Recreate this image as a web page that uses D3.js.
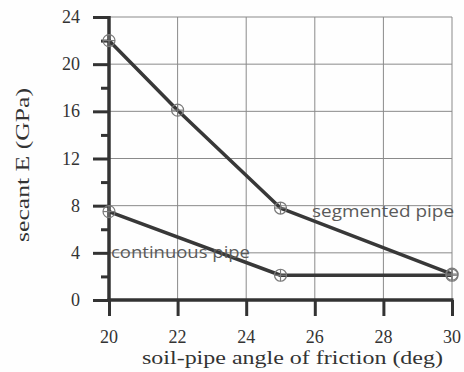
<!DOCTYPE html>
<html><head><meta charset="utf-8">
<script src="https://cdn.jsdelivr.net/npm/d3@7"></script>
<style>body{margin:0;background:#fff}
.serif{font-family:"Liberation Serif","DejaVu Serif",serif}
.sans{font-family:"Open Sans","DejaVu Sans",sans-serif}</style>
</head><body>
<script>
const xTicks = [20, 22, 24, 26, 28, 30];
const yTicks = [0, 4, 8, 12, 16, 20, 24];
const yMinor = [2, 6, 10, 14, 18, 22];
const segX = [20, 22, 25, 30];
const segY = [22, 16.1, 7.8, 2.2];
const conX = [20, 25, 30];
const conY = [7.5, 2.1, 2.1];
const seriesLabels = ["segmented pipe", "continuous pipe"];
const xTitle = "soil-pipe angle of friction (deg)";
const yTitle = "secant E (GPa)";

const W = 464, H = 372;
const m = {l: 109, r: 452, t: 17, b: 300};
const svg = d3.select("body").append("svg").attr("width", W).attr("height", H);
svg.append("rect").attr("width", W).attr("height", H).attr("fill", "#fefefe");
const x = d3.scaleLinear().domain([20, 30]).range([m.l, m.r]);
const y = d3.scaleLinear().domain([0, 24]).range([m.b, m.t]);

// grid
const g = svg.append("g").attr("stroke", "#8a8a8a").attr("stroke-width", 1);
g.selectAll(".vx").data(xTicks.slice(1)).join("line")
  .attr("x1", d => x(d)).attr("x2", d => x(d)).attr("y1", m.t).attr("y2", m.b);
g.selectAll(".hy").data(yTicks.slice(1)).join("line")
  .attr("x1", m.l).attr("x2", m.r).attr("y1", d => y(d)).attr("y2", d => y(d));

// axes (ticks only; labels drawn separately)
const yAxis = svg.append("g").attr("transform", `translate(${m.l},0)`)
  .call(d3.axisLeft(y).tickValues(yTicks).tickSize(16).tickFormat(""));
const yAxisMinor = svg.append("g").attr("transform", `translate(${m.l},0)`)
  .call(d3.axisLeft(y).tickValues(yMinor).tickSize(8).tickFormat(""));
const xAxis = svg.append("g").attr("transform", `translate(0,${m.b})`)
  .call(d3.axisBottom(x).tickValues(xTicks).tickSize(16).tickFormat(""));
[yAxis, yAxisMinor, xAxis].forEach(a => {
  a.select(".domain").remove();
  a.selectAll(".tick line").attr("stroke", "#333").attr("stroke-width", 3);
});
svg.append("line").attr("x1", m.l).attr("x2", m.l).attr("y1", m.t - 1).attr("y2", m.b + 1.5)
  .attr("stroke", "#333").attr("stroke-width", 3.5);
svg.append("line").attr("x1", m.l - 1.5).attr("x2", m.r + 1.5).attr("y1", m.b).attr("y2", m.b)
  .attr("stroke", "#333").attr("stroke-width", 3.5);

// tick labels
svg.append("g").selectAll("text").data(yTicks).join("text")
  .attr("class", "serif").style("font-size", "18px").attr("fill", "#333")
  .attr("text-anchor", "end").attr("x", m.l - 29).attr("y", d => y(d) + 6)
  .text(d => d);
svg.append("g").selectAll("text").data(xTicks).join("text")
  .attr("class", "serif").style("font-size", "18px").attr("fill", "#333")
  .attr("text-anchor", "middle").attr("x", d => x(d)).attr("y", 343)
  .text(d => d);

// lines
const line = d3.line().x(d => x(d[0])).y(d => y(d[1]));
const seg = d3.zip(segX, segY), con = d3.zip(conX, conY);
[seg, con].forEach(data => {
  svg.append("path").datum(data).attr("d", line).attr("fill", "none")
    .attr("stroke", "#383838").attr("stroke-width", 3.5).attr("stroke-linejoin", "round");
});
// markers
[seg, con].forEach(data => {
  const mk = svg.append("g").selectAll("g").data(data).join("g")
    .attr("transform", d => `translate(${x(d[0])},${y(d[1])})`)
    .attr("stroke", "#7a7a7a").attr("stroke-width", 1.2).attr("fill", "none");
  mk.append("circle").attr("r", 6);
  mk.append("line").attr("x1", -6).attr("x2", 6);
  mk.append("line").attr("y1", -6).attr("y2", 6);
});

// series labels
svg.append("text").attr("x", 312).attr("y", 217).text(seriesLabels[0])
  .attr("class", "sans").style("font-size", "16px").attr("fill", "#5a5a5a")
  .attr("textLength", 142).attr("lengthAdjust", "spacingAndGlyphs");
svg.append("text").attr("x", 111).attr("y", 258).text(seriesLabels[1])
  .attr("class", "sans").style("font-size", "16px").attr("fill", "#5a5a5a")
  .attr("textLength", 139).attr("lengthAdjust", "spacingAndGlyphs");

// titles
svg.append("text").attr("x", 142).attr("y", 364).text(xTitle)
  .attr("class", "serif").style("font-size", "18px").attr("fill", "#333")
  .attr("textLength", 301).attr("lengthAdjust", "spacingAndGlyphs");
svg.append("text").attr("transform", "translate(29,242) rotate(-90)").text(yTitle)
  .attr("class", "serif").style("font-size", "18px").attr("fill", "#333")
  .attr("textLength", 154).attr("lengthAdjust", "spacingAndGlyphs");
</script>
</body></html>
